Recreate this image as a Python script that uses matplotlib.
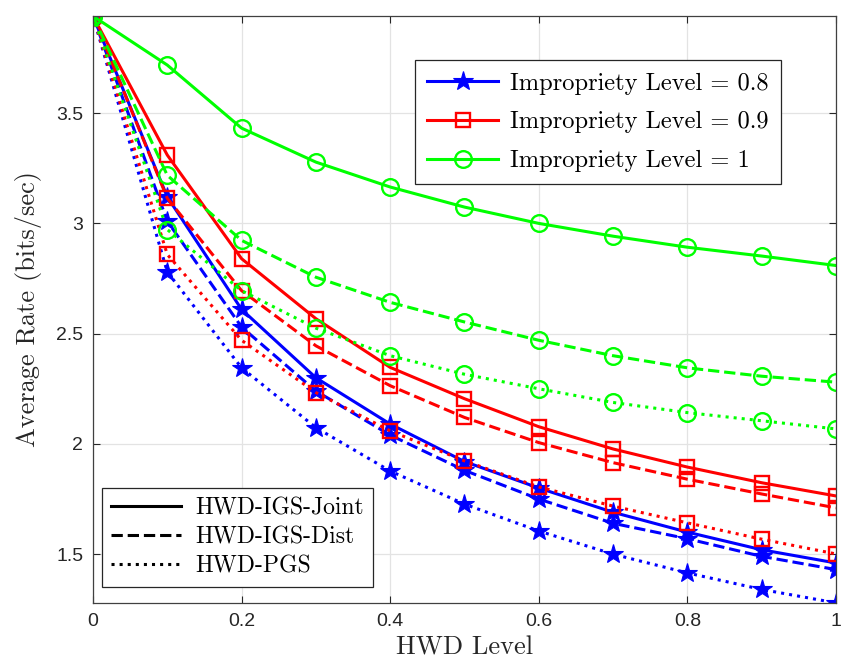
import matplotlib
matplotlib.use("Agg")
import matplotlib.pyplot as plt
from matplotlib.lines import Line2D

hwd = [0, 0.1, 0.2, 0.3, 0.4, 0.5, 0.6, 0.7, 0.8, 0.9, 1.0]

# Impropriety level 0.8 (blue)
b_joint = [3.94, 3.12, 2.61, 2.30, 2.09, 1.92, 1.80, 1.69, 1.60, 1.52, 1.46]
b_dist  = [3.94, 3.01, 2.53, 2.24, 2.04, 1.88, 1.75, 1.64, 1.57, 1.49, 1.43]
b_pgs   = [3.94, 2.78, 2.345, 2.074, 1.877, 1.727, 1.605, 1.50, 1.415, 1.34, 1.279]

# Impropriety level 0.9 (red)
r_joint = [3.94, 3.31, 2.84, 2.568, 2.347, 2.205, 2.078, 1.977, 1.895, 1.824, 1.764]
r_dist  = [3.94, 3.114, 2.695, 2.445, 2.264, 2.12, 2.006, 1.915, 1.84, 1.773, 1.71]
r_pgs   = [3.94, 2.859, 2.47, 2.233, 2.059, 1.923, 1.805, 1.718, 1.642, 1.568, 1.501]

# Impropriety level 1 (green)
g_joint = [3.94, 3.718, 3.432, 3.278, 3.165, 3.074, 3.0, 2.942, 2.892, 2.852, 2.809]
g_dist  = [3.94, 3.218, 2.923, 2.756, 2.642, 2.553, 2.47, 2.40, 2.345, 2.307, 2.28]
g_pgs   = [3.94, 2.972, 2.695, 2.525, 2.40, 2.316, 2.25, 2.188, 2.142, 2.105, 2.068]

legend_levels = ["Impropriety Level = 0.8", "Impropriety Level = 0.9", "Impropriety Level = 1"]
legend_methods = ["HWD-IGS-Joint", "HWD-IGS-Dist", "HWD-PGS"]

xticks = [0, 0.2, 0.4, 0.6, 0.8, 1]
xticklabels = ["0", "0.2", "0.4", "0.6", "0.8", "1"]
yticks = [1.5, 2, 2.5, 3, 3.5]
yticklabels = ["1.5", "2", "2.5", "3", "3.5"]

plt.rcParams['font.family'] = ['Liberation Sans', 'DejaVu Sans']
plt.rcParams['mathtext.fontset'] = 'cm'

fig = plt.figure(figsize=(8.43, 6.70), dpi=100)
ax = fig.add_axes([0.1103, 0.100, 0.8814, 0.8766])

blue = (0, 0, 1)
red = (1, 0, 0)
green = (0, 1, 0)
styles = ['-', '--', ':']
lw = 2.2
mew = 1.7
msizes = {'*': 15, 's': 10, 'o': 12}

series = [
    (blue, '*', [b_joint, b_dist, b_pgs]),
    (red, 's', [r_joint, r_dist, r_pgs]),
    (green, 'o', [g_joint, g_dist, g_pgs]),
]
for color, mk, ys in series:
    for ls, y in zip(styles, ys):
        ax.plot(hwd, y, linestyle=ls, color=color, lw=lw, marker=mk,
                markersize=msizes[mk], markerfacecolor='none' if mk != '*' else color,
                markeredgecolor=color, markeredgewidth=mew if mk != '*' else 0.8)

ax.set_xlim(0, 1)
ax.set_ylim(1.2786, 3.942)
ax.set_xticks(xticks)
ax.set_xticklabels(xticklabels)
ax.set_yticks(yticks)
ax.set_yticklabels(yticklabels)
ax.tick_params(direction='in', length=5, width=0.8, colors='#262626',
               labelsize=14, top=True, right=True, pad=7)
for s in ax.spines.values():
    s.set_color('#404040')
    s.set_linewidth(0.9)
ax.grid(True, color='#e3e3e3', lw=0.9)
ax.set_axisbelow(True)

ax.set_xlabel("HWD Level", fontfamily='cmr10', fontsize=19, labelpad=4, color='#262626')
ax.set_ylabel("Average Rate (bits/sec)", fontfamily='cmr10', fontsize=19, labelpad=10, color='#262626')

h1 = [
    Line2D([], [], color=blue, lw=lw, marker='*', markersize=msizes['*'], markerfacecolor=blue, markeredgewidth=0.8),
    Line2D([], [], color=red, lw=lw, marker='s', markersize=msizes['s'], markerfacecolor='none', markeredgewidth=mew),
    Line2D([], [], color=green, lw=lw, marker='o', markersize=msizes['o'], markerfacecolor='none', markeredgewidth=mew),
]
leg1 = ax.legend(h1, legend_levels, loc='upper right', bbox_to_anchor=(0.926, 0.924),
                 prop={'family': 'cmr10', 'size': 17.6}, handlelength=2.9, fancybox=False,
                 edgecolor='#262626', framealpha=1, borderpad=0.5, labelspacing=0.68,
                 handletextpad=0.5, borderaxespad=0)
leg1.get_frame().set_linewidth(0.9)
ax.add_artist(leg1)

h2 = [Line2D([], [], color='black', lw=2.2, linestyle=ls) for ls in styles]
leg2 = ax.legend(h2, legend_methods, loc='lower left', bbox_to_anchor=(0.012, 0.027),
                 prop={'family': 'cmr10', 'size': 17}, handlelength=2.95, fancybox=False,
                 edgecolor='#262626', framealpha=1, borderpad=0.4, labelspacing=0.3,
                 handletextpad=0.6, borderaxespad=0)
leg2.get_frame().set_linewidth(0.9)

fig.savefig("out.png", dpi=100)
